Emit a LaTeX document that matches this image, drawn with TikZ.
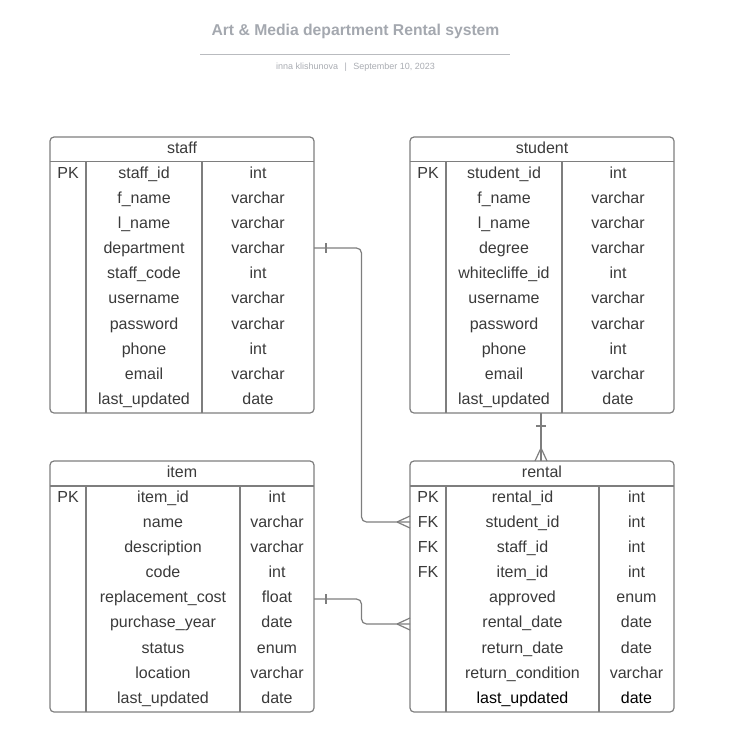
\documentclass[tikz,border=0pt]{standalone}
\usepackage{fontspec}
\setmainfont{Liberation Sans}
\usepackage{tikz}
\usetikzlibrary{calc}

\definecolor{linegray}{HTML}{7E7E7E}
\definecolor{textgray}{HTML}{3A3A3A}
\definecolor{titlegray}{HTML}{A4A8AF}
\definecolor{subgray}{HTML}{A9ACB2}
\definecolor{rulegray}{HTML}{B9BBBF}

\begin{document}
\begin{tikzpicture}[x=1pt, y=-1pt,
  box/.style={draw=linegray, line width=1.2pt, rounded corners=4pt},
  sep/.style={draw=linegray, line width=1.2pt},
  conn/.style={draw=linegray, line width=1.2pt},
  cell/.style={anchor=base, inner sep=0pt, text=textgray, font=\fontsize{16}{18}\selectfont}]

\useasboundingbox (0,0) rectangle (735,745);

\node[anchor=base, text=titlegray, font=\fontsize{15.7}{18}\selectfont\bfseries] (title) at (355.5,35.6) {Art \& Media department Rental system};
\draw[draw=rulegray, line width=1pt] (200,54) -- (510,54);
\node[anchor=base, text=subgray, font=\fontsize{9}{11}\selectfont] (subtitle) at (355.5,69.2) {inna klishunova \ \,|\ \, September 10, 2023};

% staff
\draw[box] (50,137) rectangle (314,413);
\draw[sep] (50,161.5) -- (314,161.5);
\draw[sep] (86,161.5) -- (86,413);
\draw[sep] (202,161.5) -- (202,413);
\node[cell] (staff) at (182,153.5) {staff};
\foreach \k/\f/\t [count=\i] in {PK/staff\_id/int, {}/f\_name/varchar, {}/l\_name/varchar, {}/department/varchar, {}/staff\_code/int, {}/username/varchar, {}/password/varchar, {}/phone/int, {}/email/varchar, {}/last\_updated/date}{
  \node[cell] (staff-k\i) at (68,{153+25.15*\i}) {\k};
  \node[cell] (staff-f\i) at (144,{153+25.15*\i}) {\f};
  \node[cell] (staff-t\i) at (258,{153+25.15*\i}) {\t};
}

% student
\draw[box] (410,137) rectangle (674,413);
\draw[sep] (410,161.5) -- (674,161.5);
\draw[sep] (446,161.5) -- (446,413);
\draw[sep] (562,161.5) -- (562,413);
\node[cell] (student) at (542,153.5) {student};
\foreach \k/\f/\t [count=\i] in {PK/student\_id/int, {}/f\_name/varchar, {}/l\_name/varchar, {}/degree/varchar, {}/whitecliffe\_id/int, {}/username/varchar, {}/password/varchar, {}/phone/int, {}/email/varchar, {}/last\_updated/date}{
  \node[cell] (student-k\i) at (428,{153+25.15*\i}) {\k};
  \node[cell] (student-f\i) at (504,{153+25.15*\i}) {\f};
  \node[cell] (student-t\i) at (618,{153+25.15*\i}) {\t};
}

% item
\draw[box] (50,461) rectangle (314,712);
\draw[sep] (50,486) -- (314,486);
\draw[sep] (86,486) -- (86,712);
\draw[sep] (240,486) -- (240,712);
\node[cell] (item) at (182,477.5) {item};
\foreach \k/\f/\t [count=\i] in {PK/item\_id/int, {}/name/varchar, {}/description/varchar, {}/code/int, {}/replacement\_cost/float, {}/purchase\_year/date, {}/status/enum, {}/location/varchar, {}/last\_updated/date}{
  \node[cell] (item-k\i) at (68,{477.3+25.1*\i}) {\k};
  \node[cell] (item-f\i) at (163,{477.3+25.1*\i}) {\f};
  \node[cell] (item-t\i) at (277,{477.3+25.1*\i}) {\t};
}

% rental
\draw[box] (410,461) rectangle (674,712);
\draw[sep] (410,486) -- (674,486);
\draw[sep] (446,486) -- (446,712);
\draw[sep] (599,486) -- (599,712);
\node[cell] (rental) at (542,477.5) {rental};
\foreach \k/\f/\t/\c [count=\i] in {PK/rental\_id/int/textgray, FK/student\_id/int/textgray, FK/staff\_id/int/textgray, FK/item\_id/int/textgray, {}/approved/enum/textgray, {}/rental\_date/date/textgray, {}/return\_date/date/textgray, {}/return\_condition/varchar/textgray, {}/last\_updated/date/black}{
  \node[cell, text=\c] (rental-k\i) at (428,{477.3+25.1*\i}) {\k};
  \node[cell, text=\c] (rental-f\i) at (522.5,{477.3+25.1*\i}) {\f};
  \node[cell, text=\c] (rental-t\i) at (636.5,{477.3+25.1*\i}) {\t};
}

% relations
\coordinate (staffR) at (314,248);
\coordinate (itemR) at (314,599);
\coordinate (studentB) at (541,413);
\coordinate (rentalT) at (541,461);
\coordinate (rentalL1) at (410,522);
\coordinate (rentalL2) at (410,624);

\draw[conn, rounded corners=5pt] (staffR) -- ++(47.5,0) |- (rentalL1);
\draw[conn] (staffR) ++(12,-5) -- ++(0,10);
\draw[conn] (rentalL1) ++(-13,0) -- ++(13,-6) (rentalL1) ++(-13,0) -- ++(13,6);

\draw[conn, rounded corners=5pt] (itemR) -- ++(47.5,0) |- (rentalL2);
\draw[conn] (itemR) ++(12,-5) -- ++(0,10);
\draw[conn] (rentalL2) ++(-13,0) -- ++(13,-6) (rentalL2) ++(-13,0) -- ++(13,6);

\draw[conn] (studentB) -- (rentalT);
\draw[conn] (studentB) ++(-5,13) -- ++(10,0);
\draw[conn] (rentalT) ++(0,-13) -- ++(-6,13) (rentalT) ++(0,-13) -- ++(6,13);
\end{tikzpicture}
\end{document}
